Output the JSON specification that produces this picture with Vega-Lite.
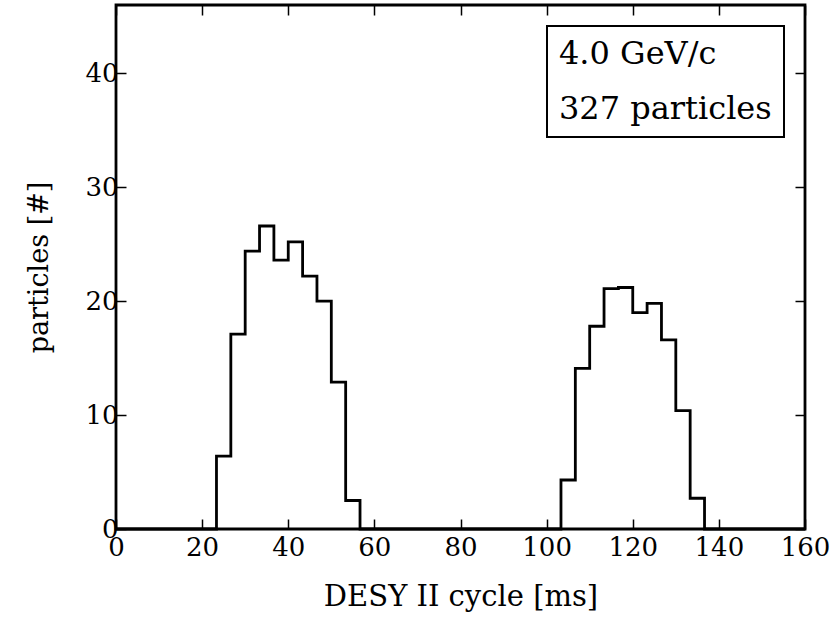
{
  "$schema": "https://vega.github.io/schema/vega-lite/v6.json",
  "width": 689,
  "height": 524,
  "autosize": "none",
  "padding": {"left": 116, "top": 5, "right": 25, "bottom": 94},
  "background": "white",
  "datasets": {
    "hist": [
      {"cycle": 0, "particles": 0},
      {"cycle": 23.333, "particles": 0},
      {"cycle": 26.667, "particles": 6.4},
      {"cycle": 30, "particles": 17.1},
      {"cycle": 33.333, "particles": 24.4},
      {"cycle": 36.667, "particles": 26.6},
      {"cycle": 40, "particles": 23.6},
      {"cycle": 43.333, "particles": 25.2},
      {"cycle": 46.667, "particles": 22.2},
      {"cycle": 50, "particles": 20.0},
      {"cycle": 53.333, "particles": 12.9},
      {"cycle": 56.667, "particles": 2.5},
      {"cycle": 103.333, "particles": 0},
      {"cycle": 106.667, "particles": 4.3},
      {"cycle": 110, "particles": 14.1},
      {"cycle": 113.333, "particles": 17.8},
      {"cycle": 116.667, "particles": 21.1},
      {"cycle": 120, "particles": 21.2},
      {"cycle": 123.333, "particles": 19.0},
      {"cycle": 126.667, "particles": 19.8},
      {"cycle": 130, "particles": 16.6},
      {"cycle": 133.333, "particles": 10.4},
      {"cycle": 136.667, "particles": 2.7},
      {"cycle": 160, "particles": 0}
    ],
    "info": [
      {"info": "4.0 GeV/c"},
      {"info": "327 particles"}
    ]
  },
  "layer": [
    {
      "data": {"name": "hist"},
      "mark": {"type": "line", "interpolate": "step-before", "color": "black", "strokeWidth": 2.8},
      "encoding": {
        "x": {
          "field": "cycle",
          "type": "quantitative",
          "scale": {"domain": [0, 160], "nice": false},
          "axis": {"orient": "bottom", "title": "DESY II cycle [ms]", "values": [0, 20, 40, 60, 80, 100, 120, 140, 160]}
        },
        "y": {
          "field": "particles",
          "type": "quantitative",
          "scale": {"domain": [0, 46], "nice": false},
          "axis": {"orient": "left", "title": "particles [#]", "values": [0, 10, 20, 30, 40]}
        }
      }
    },
    {
      "data": {"name": "hist"},
      "mark": {"type": "point", "opacity": 0},
      "encoding": {
        "x": {
          "field": "cycle",
          "type": "quantitative",
          "axis": {"orient": "top", "labels": false, "title": null, "values": [0, 20, 40, 60, 80, 100, 120, 140, 160]}
        },
        "y": {
          "field": "particles",
          "type": "quantitative",
          "axis": {"orient": "right", "labels": false, "title": null, "values": [0, 10, 20, 30, 40]}
        }
      }
    },
    {
      "data": {"name": "info"},
      "mark": {"type": "point", "opacity": 0},
      "encoding": {
        "color": {
          "field": "info",
          "type": "nominal",
          "scale": {"domain": ["4.0 GeV/c", "327 particles"], "range": ["black", "black"]},
          "legend": {"title": null}
        }
      }
    }
  ],
  "resolve": {"axis": {"x": "independent", "y": "independent"}},
  "config": {
    "view": {"stroke": "black", "strokeWidth": 2.8},
    "axis": {
      "domain": false,
      "grid": false,
      "tickSize": -10,
      "tickWidth": 1.5,
      "tickColor": "black",
      "labelFont": "DejaVu Serif",
      "labelFontSize": 26,
      "labelColor": "black",
      "labelFlush": false,
      "labelOverlap": false,
      "titleFont": "DejaVu Serif",
      "titleFontWeight": "normal",
      "titleColor": "black"
    },
    "axisX": {"labelPadding": 15, "titlePadding": 22, "titleFontSize": 29},
    "axisY": {"labelPadding": 8, "titlePadding": 31, "titleFontSize": 27},
    "legend": {
      "orient": "top-right",
      "offset": 21,
      "strokeColor": "black",
      "strokeWidth": 2,
      "padding": 12,
      "labelFont": "DejaVu Serif",
      "labelFontSize": 32,
      "labelColor": "black",
      "labelLimit": 500,
      "labelOffset": -32,
      "symbolType": "circle",
      "symbolSize": 1,
      "symbolOpacity": 0,
      "symbolStrokeWidth": 0,
      "rowPadding": 23
    }
  }
}
